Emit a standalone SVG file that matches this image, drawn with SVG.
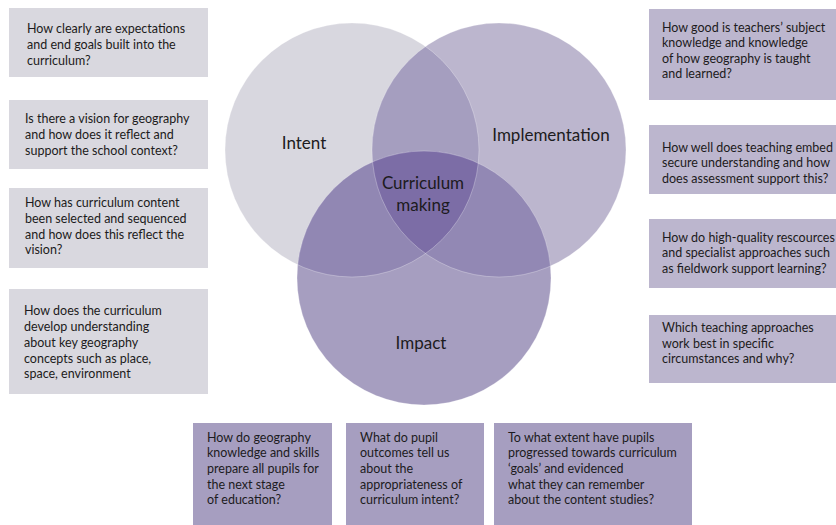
<svg xmlns="http://www.w3.org/2000/svg" width="836" height="525" viewBox="0 0 836 525">
  <style>
    .q { font-family: "Lato", "Liberation Sans", sans-serif; font-size: 12.5px; fill: #1c1b20; }
    .lbl { font-family: "Lato", "Liberation Sans", sans-serif; font-size: 17px; fill: #1c1b20; text-anchor: middle; }
    .grey { fill: #d9d8df; }
    .lilac { fill: #bcb6ce; }
    .violet { fill: #a69ec0; }
    .edge { fill: none; stroke: #ffffff; stroke-opacity: 0.35; stroke-width: 0.8; }
  </style>
  <defs>
    <clipPath id="clipIntent"><circle cx="352" cy="150" r="127"/></clipPath>
    <clipPath id="clipImpl"><circle cx="499" cy="150" r="127"/></clipPath>
  </defs>
  <rect width="836" height="525" fill="#ffffff"/>

  <!-- Venn diagram -->
  <g id="venn">
    <circle id="intent-circle" cx="352" cy="150" r="127" fill="#d8d7df"/>
    <circle id="implementation-circle" cx="499" cy="150" r="127" fill="#bcb6ce"/>
    <circle id="impact-circle" cx="424" cy="278" r="127" fill="#a69ec0"/>
    <!-- pairwise overlaps -->
    <circle cx="499" cy="150" r="127" fill="#a59ebf" clip-path="url(#clipIntent)"/>
    <circle cx="424" cy="278" r="127" fill="#9187b3" clip-path="url(#clipIntent)"/>
    <circle cx="424" cy="278" r="127" fill="#9288b4" clip-path="url(#clipImpl)"/>
    <!-- centre overlap -->
    <g clip-path="url(#clipImpl)">
      <circle cx="424" cy="278" r="127" fill="#7c6da6" clip-path="url(#clipIntent)"/>
    </g>
    <circle class="edge" cx="352" cy="150" r="127"/>
    <circle class="edge" cx="499" cy="150" r="127"/>
    <circle class="edge" cx="424" cy="278" r="127"/>
  </g>

  <g id="label-intent"><text class="lbl" x="304" y="149">Intent</text></g>
  <g id="label-implementation"><text class="lbl" x="551" y="141">Implementation</text></g>
  <g id="label-curriculum-making">
    <text class="lbl" x="423" y="189">Curriculum</text>
    <text class="lbl" x="423" y="211">making</text>
  </g>
  <g id="label-impact"><text class="lbl" x="421" y="349">Impact</text></g>

  <!-- Intent questions -->
  <g id="intent-q1">
    <rect class="grey" x="9" y="8" width="199" height="69"/>
    <text class="q" x="27" y="33">How clearly are expectations</text>
    <text class="q" x="27" y="49">and end goals built into the</text>
    <text class="q" x="27" y="65">curriculum?</text>
  </g>
  <g id="intent-q2">
    <rect class="grey" x="9" y="100" width="199" height="69"/>
    <text class="q" x="25" y="123">Is there a vision for geography</text>
    <text class="q" x="25" y="139">and how does it reflect and</text>
    <text class="q" x="25" y="155">support the school context?</text>
  </g>
  <g id="intent-q3">
    <rect class="grey" x="9" y="188" width="199" height="80"/>
    <text class="q" x="25" y="207">How has curriculum content</text>
    <text class="q" x="25" y="223">been selected and sequenced</text>
    <text class="q" x="25" y="239">and how does this reflect the</text>
    <text class="q" x="25" y="254">vision?</text>
  </g>
  <g id="intent-q4">
    <rect class="grey" x="9" y="289" width="199" height="105"/>
    <text class="q" x="24" y="315">How does the curriculum</text>
    <text class="q" x="24" y="331">develop understanding</text>
    <text class="q" x="24" y="347">about key geography</text>
    <text class="q" x="24" y="363">concepts such as place,</text>
    <text class="q" x="24" y="378">space, environment</text>
  </g>

  <!-- Implementation questions -->
  <g id="implementation-q1">
    <rect class="lilac" x="649" y="9" width="187" height="91"/>
    <text class="q" x="662" y="32">How good is teachers’ subject</text>
    <text class="q" x="662" y="47">knowledge and knowledge</text>
    <text class="q" x="662" y="63">of how geography is taught</text>
    <text class="q" x="662" y="78">and learned?</text>
  </g>
  <g id="implementation-q2">
    <rect class="lilac" x="649" y="125" width="187" height="69"/>
    <text class="q" x="662" y="152">How well does teaching embed</text>
    <text class="q" x="662" y="167">secure understanding and how</text>
    <text class="q" x="662" y="183">does assessment support this?</text>
  </g>
  <g id="implementation-q3">
    <rect class="lilac" x="649" y="219" width="187" height="69"/>
    <text class="q" x="662" y="242">How do high-quality rescources</text>
    <text class="q" x="662" y="257">and specialist approaches such</text>
    <text class="q" x="662" y="273">as fieldwork support learning?</text>
  </g>
  <g id="implementation-q4">
    <rect class="lilac" x="649" y="315" width="187" height="68"/>
    <text class="q" x="662" y="332">Which teaching approaches</text>
    <text class="q" x="662" y="348">work best in specific</text>
    <text class="q" x="662" y="363">circumstances and why?</text>
  </g>

  <!-- Impact questions -->
  <g id="impact-q1">
    <rect class="violet" x="193" y="423" width="139" height="102"/>
    <text class="q" x="207" y="442">How do geography</text>
    <text class="q" x="207" y="457">knowledge and skills</text>
    <text class="q" x="207" y="473">prepare all pupils for</text>
    <text class="q" x="207" y="489">the next stage</text>
    <text class="q" x="207" y="504">of education?</text>
  </g>
  <g id="impact-q2">
    <rect class="violet" x="346" y="423" width="138" height="102"/>
    <text class="q" x="360" y="442">What do pupil</text>
    <text class="q" x="360" y="457">outcomes tell us</text>
    <text class="q" x="360" y="473">about the</text>
    <text class="q" x="360" y="489">appropriateness of</text>
    <text class="q" x="360" y="504">curriculum intent?</text>
  </g>
  <g id="impact-q3">
    <rect class="violet" x="494" y="423" width="198" height="102"/>
    <text class="q" x="508" y="442">To what extent have pupils</text>
    <text class="q" x="508" y="457">progressed towards curriculum</text>
    <text class="q" x="508" y="473">‘goals’ and evidenced</text>
    <text class="q" x="508" y="489">what they can remember</text>
    <text class="q" x="508" y="504">about the content studies?</text>
  </g>
</svg>
